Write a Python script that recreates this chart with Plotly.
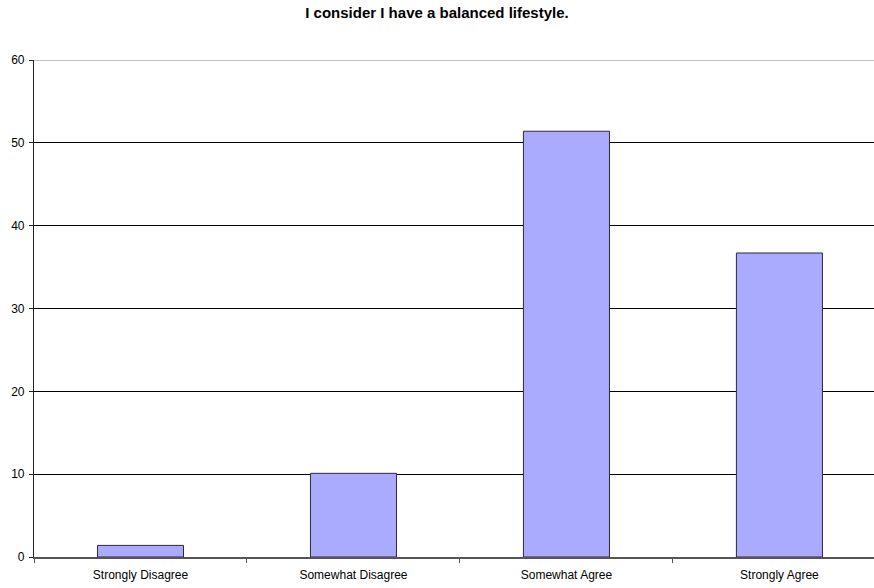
import plotly.graph_objects as go

categories = ["Strongly Disagree", "Somewhat Disagree", "Somewhat Agree", "Strongly Agree"]
percentages = [1.4, 10.1, 51.4, 36.7]
y_ticks = [0, 10, 20, 30, 40, 50, 60]

fig = go.Figure(
    go.Bar(
        x=categories,
        y=percentages,
        width=0.404,
        marker=dict(color="#AAAAFF", line=dict(color="#2a2a3a", width=1)),
    )
)

fig.update_layout(
    width=874,
    height=588,
    margin=dict(l=34, r=0, t=60, b=31),
    paper_bgcolor="white",
    plot_bgcolor="white",
    showlegend=False,
    font=dict(family="Liberation Sans, Arial, sans-serif", size=12, color="black"),
    title=dict(
        text="<b>I consider I have a balanced lifestyle.</b>",
        x=0.5,
        xanchor="center",
        y=1 - 13 / 588,
        yanchor="middle",
        font=dict(size=15, color="black"),
    ),
    # top border line at 60, drawn in grey
    shapes=[
        dict(type="line", xref="paper", yref="y", x0=0, x1=1, y0=60, y1=60,
             line=dict(color="#888888", width=1)),
    ],
)

fig.update_xaxes(
    type="category",
    range=[-0.5, 3.444],
    showline=True,
    linecolor="#555555",
    linewidth=1.5,
    ticks="outside",
    tickson="boundaries",
    ticklen=4,
    tickcolor="#555555",
    showgrid=False,
    ticklabelstandoff=6,
    tickfont=dict(size=12),
)

fig.update_yaxes(
    range=[0, 60],
    tickvals=y_ticks,
    showline=True,
    linecolor="#222222",
    linewidth=1.2,
    ticks="outside",
    ticklen=4,
    tickcolor="#222222",
    showgrid=True,
    gridcolor="black",
    gridwidth=1,
    zeroline=False,
    ticklabelstandoff=2,
    tickfont=dict(size=12),
)

fig.write_html("out.html")
